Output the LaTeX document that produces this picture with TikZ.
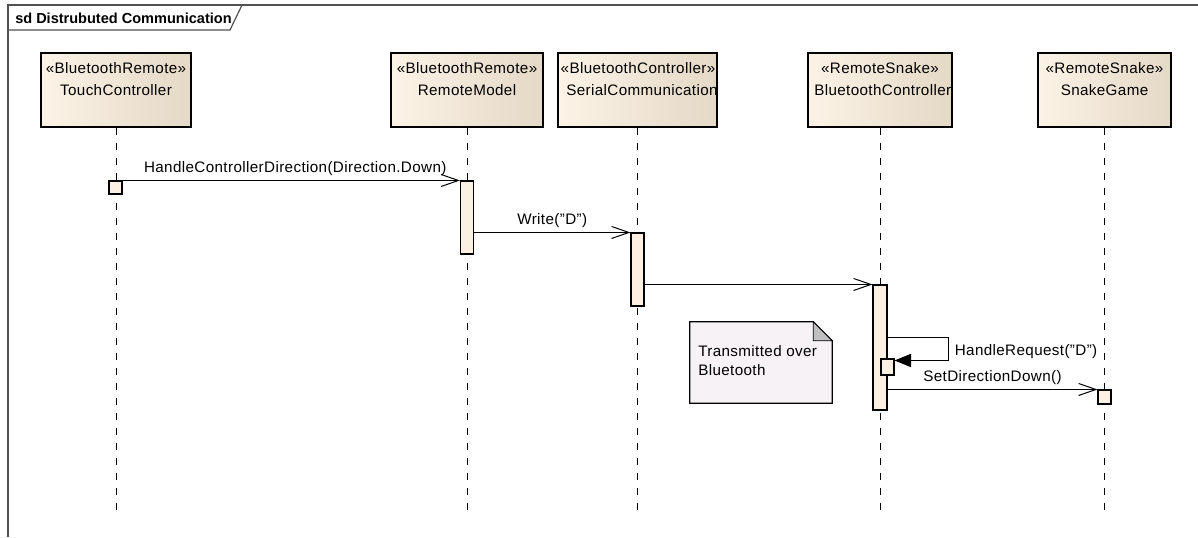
\documentclass[tikz,border=0pt]{standalone}
\usepackage{fontspec}
\setmainfont{Liberation Sans}[LetterSpace=2.5]
\newfontfamily\titlefont{Liberation Sans}
\usetikzlibrary{arrows.meta,fit,calc,shadows}

\definecolor{boxlight}{HTML}{FCF3E6}
\definecolor{boxdark}{HTML}{E4D8C6}
\definecolor{actfill}{HTML}{FBF0E2}
\definecolor{notefill}{HTML}{F6F2F6}
\definecolor{framecol}{HTML}{505050}

\tikzset{
  lifebox/.style={draw, line width=1.1pt, inner sep=0pt, left color=boxlight, right color=boxdark,
    copy shadow={shadow xshift=0.8pt, shadow yshift=-0.8pt, fill=black!55, draw=none}},
  actbox/.style={draw, line width=0.8pt, fill=actfill, inner sep=0pt},
  lifeline/.style={line width=0.7pt, dash pattern=on 5.25pt off 6pt},
  msg/.style={line width=0.75pt, -{Straight Barb[length=13pt,width=9pt,line width=0.75pt]}},
  selfmsg/.style={line width=0.75pt, -{Triangle[length=12.5pt,width=10pt]}},
  frameline/.style={draw=framecol, line width=0.9pt},
  txt/.style={inner sep=0pt},
}

\begin{document}
\begin{tikzpicture}[x=0.75pt,y=-0.75pt, font=\fontsize{11.4}{13.5}\selectfont]
\useasboundingbox (0,0) rectangle (1198,537);

% diagram frame and its name tab
\draw[frameline] (8,537) -- (8,5) -- (1198,5);
\draw[frameline] (8,30) -- (230,30) -- (242,5);
\node[txt, anchor=west, font=\titlefont\bfseries\fontsize{10.9}{13}\selectfont] (title) at (15,18) {sd Distrubuted Communication};

% lifeline heads
\node[lifebox, fit={(41,53)(191,127)}] (tc) {};
\node[lifebox, fit={(391,53)(543,127)}] (rm) {};
\node[lifebox, fit={(558,53)(717,127)}] (sc) {};
\node[lifebox, fit={(808,53)(952,127)}] (bc) {};
\node[lifebox, fit={(1038,53)(1171,127)}] (sg) {};

\node[txt] (tcS) at (116,68) {«BluetoothRemote»};
\node[txt] (tcN) at (116,90) {TouchController};
\node[txt] (rmS) at (467,68) {«BluetoothRemote»};
\node[txt] (rmN) at (467,90) {RemoteModel};
\node[txt] (scS) at (638,68) {«BluetoothController»};
\begin{scope}
  \clip (sc.north west) rectangle (sc.south east);
  \node[txt, anchor=west] (scN) at (566,90) {SerialCommunication};
\end{scope}
\node[txt] (bcS) at (880,68) {«RemoteSnake»};
\begin{scope}
  \clip (bc.north west) rectangle (bc.south east);
  \node[txt, anchor=west] (bcN) at (814,90) {BluetoothController};
\end{scope}
\node[txt] (sgS) at (1104.5,68) {«RemoteSnake»};
\node[txt] (sgN) at (1104.5,90) {SnakeGame};

% lifelines
\coordinate (tcE) at (116,510);
\coordinate (rmE) at (467,510);
\coordinate (scE) at (637.5,510);
\coordinate (bcE) at (880,510);
\coordinate (sgE) at (1104.5,510);
\draw[lifeline] (tc.south) -- (tcE);
\draw[lifeline] (rm.south) -- (rmE);
\draw[lifeline] (sc.south) -- (scE);
\draw[lifeline] (bc.south) -- (bcE);
\draw[lifeline] (sg.south) -- (sgE);

% note
\node[inner sep=0pt, fit={(690,322)(832,403)}] (note) {};
\filldraw[fill=notefill, draw=black, line width=0.9pt]
  (note.north west) -- ($(note.north east)+(-19,0)$) -- ($(note.north east)+(0,19)$)
  -- (note.south east) -- (note.south west) -- cycle;
\filldraw[fill=black!25, draw=black, line width=0.6pt]
  ($(note.north east)+(-19,0)$) -- ($(note.north east)+(-19,19)$) -- ($(note.north east)+(0,19)$) -- cycle;
\node[txt, anchor=north west, align=left, font=\fontsize{11.4}{14.5}\selectfont] (noteT) at (698,345) {Transmitted over\\Bluetooth};

% activations
\node[actbox, fit={(109,181)(122,194)}] (a1) {};
\node[actbox, fit={(460.5,181)(473.5,254)}] (a2) {};
\node[actbox, fit={(631,233)(644,306)}] (a3) {};
\node[actbox, fit={(873,285)(887,410)}] (a4) {};
\node[actbox, fit={(881,359)(894,375)}] (a5) {};
\node[actbox, fit={(1098,390)(1111,404)}] (a6) {};

% messages
\draw[msg] (a1.north east) -- node[midway, above=3pt, txt, xshift=3pt] (m1) {HandleControllerDirection(Direction.Down)} (a2.north west);
\draw[msg] (a2.east |- a3.north) -- node[midway, above=3pt, txt] (m2) {Write("D")} (a3.north west);
\draw[msg] (a3.east |- a4.north) -- (a4.north west);
\draw[selfmsg] ($(a4.east |- a5.north)+(0,-21)$) -- ++(61,0) coordinate (loopC) -- ++(0,23)
  -- ([yshift=-1.5pt]a5.north east);
\node[txt, anchor=west] (m4) at ($(loopC)+(6,14)$) {HandleRequest("D")};
\draw[msg] (a4.east |- a6.north) -- node[midway, above=3pt, txt] (m5) {SetDirectionDown()} (a6.north west);
\end{tikzpicture}
\end{document}
